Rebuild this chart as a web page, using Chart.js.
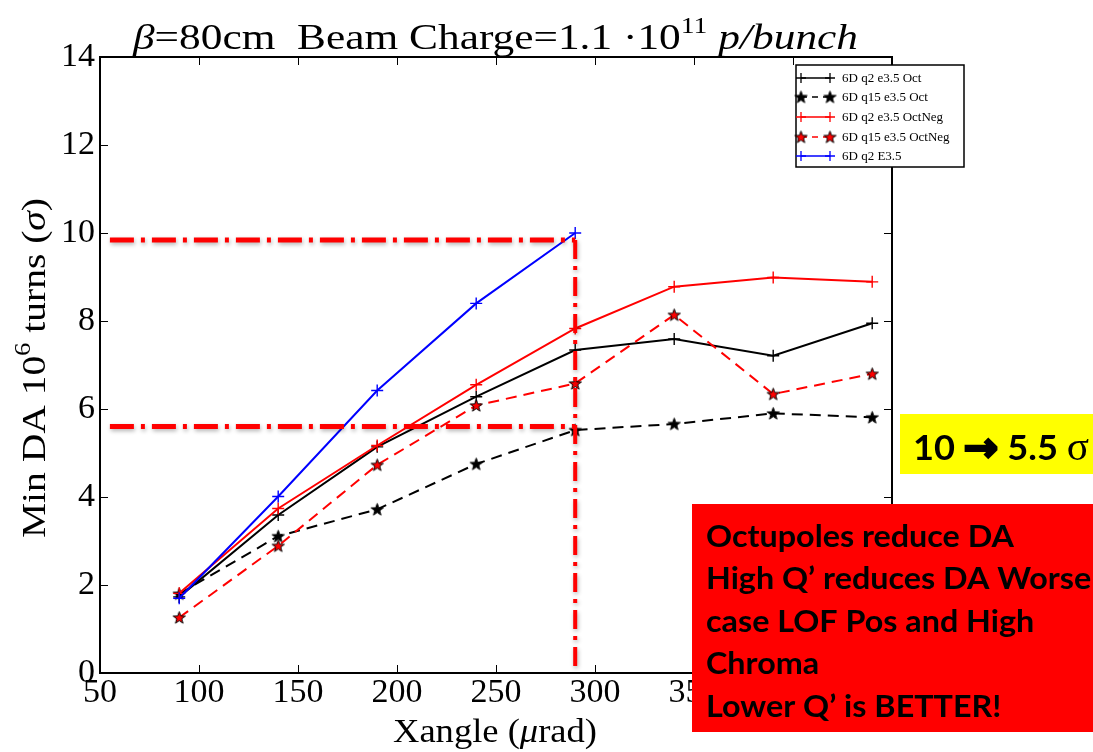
<!DOCTYPE html>
<html>
<head>
<meta charset="utf-8">
<script src="https://cdn.jsdelivr.net/npm/chart.js@4"></script>
<style>
  html, body { margin: 0; padding: 0; background: #fff; }
  #wrap { width: 1093px; height: 752px; position: relative; }
</style>
</head>
<body>
<div id="wrap"><canvas id="c"></canvas></div>
<script>
// Crossing angle scan (µrad) and minimum dynamic aperture (sigma)
const xangle = [90, 140, 190, 240, 290, 340, 390, 440];
const daQ2Oct      = [1.73, 3.59, 5.14, 6.28, 7.34, 7.59, 7.21, 7.95];
const daQ15Oct     = [1.80, 3.11, 3.72, 4.75, 5.52, 5.66, 5.90, 5.81];
const daQ2OctNeg   = [1.81, 3.74, 5.17, 6.55, 7.83, 8.78, 8.99, 8.89];
const daQ15OctNeg  = [1.26, 2.89, 4.73, 6.08, 6.58, 8.14, 6.34, 6.80];
const daQ2E35      = [1.70, 4.01, 6.42, 8.40, 10.0];

const seriesNames = ['6D q2 e3.5 Oct', '6D q15 e3.5 Oct', '6D q2 e3.5 OctNeg', '6D q15 e3.5 OctNeg', '6D q2 E3.5'];

const xTickValues = [50, 100, 150, 200, 250, 300, 350, 400, 450];
const yTickValues = [0, 2, 4, 6, 8, 10, 12, 14];

// Reference levels marked on the plot
const daBefore = 9.84;
const daAfter = 5.60;
const refAngle = 290;
const refStart = 55;

const noteBadge = ['10 ', '\u2192', ' 5.5 ', '\u03c3'];
const noteLines = [
  'Octupoles reduce DA',
  'High Q\u2019 reduces DA Worse',
  'case LOF Pos and High',
  'Chroma',
  'Lower Q\u2019 is BETTER!'
];

const SERIF = '"Liberation Serif", "Times New Roman", serif';
const SANS = 'Lato, "Open Sans", sans-serif';

function starImage(fill) {
  const c = document.createElement('canvas');
  c.width = 15; c.height = 15;
  const g = c.getContext('2d');
  g.beginPath();
  for (let i = 0; i < 10; i++) {
    const r = i % 2 ? 2.6 : 6.4;
    const a = -Math.PI / 2 + i * Math.PI / 5;
    g.lineTo(7.5 + r * Math.cos(a), 8 + r * Math.sin(a));
  }
  g.closePath();
  g.fillStyle = fill; g.fill();
  g.lineWidth = 1; g.strokeStyle = '#000'; g.stroke();
  return c;
}
const starBlack = starImage('#000000');
const starRed = starImage('#ff0000');

function pts(vals) { return vals.map((v, i) => ({ x: xangle[i], y: v })); }

const styles = [
  { color: '#000000', dash: [], marker: 'cross' },
  { color: '#000000', dash: [11, 7], marker: starBlack },
  { color: '#ff0000', dash: [], marker: 'cross' },
  { color: '#ff0000', dash: [11, 7], marker: starRed },
  { color: '#0000ff', dash: [], marker: 'cross' }
];
const seriesValues = [daQ2Oct, daQ15Oct, daQ2OctNeg, daQ15OctNeg, daQ2E35];

const datasets = seriesValues.map((vals, k) => ({
  label: seriesNames[k],
  data: pts(vals),
  borderColor: styles[k].color,
  backgroundColor: styles[k].color,
  borderWidth: 2,
  borderDash: styles[k].dash,
  pointStyle: styles[k].marker,
  pointRadius: 6,
  pointBorderWidth: 1.4,
  pointBorderColor: styles[k].color,
  pointBackgroundColor: styles[k].color,
  tension: 0,
  fill: false,
  order: 5 - k
}));

// Draws runs of text with mixed fonts, stretched to a given width
function drawRuns(ctx, runs, x, y, fitWidth) {
  let total = 0;
  runs.forEach(r => { ctx.font = r.font; r.w = ctx.measureText(r.t).width; total += r.w; });
  const s = fitWidth ? fitWidth / total : 1;
  ctx.save();
  ctx.translate(x, y);
  ctx.scale(s, 1);
  ctx.textBaseline = 'alphabetic';
  ctx.textAlign = 'left';
  let cx = 0;
  runs.forEach(r => {
    ctx.font = r.font;
    ctx.fillStyle = r.color || '#000';
    ctx.fillText(r.t, cx, r.dy || 0);
    if (r.heavy) {
      ctx.strokeStyle = r.color || '#000';
      ctx.lineWidth = r.heavy;
      ctx.lineJoin = 'miter';
      ctx.strokeText(r.t, cx, r.dy || 0);
    }
    cx += r.w;
  });
  ctx.restore();
}

const decorations = {
  id: 'decorations',
  afterDraw(chart) {
    const ctx = chart.ctx;
    const a = chart.chartArea;
    const xs = chart.scales.x, ys = chart.scales.y;

    // Frame with inward ticks on all four sides
    ctx.save();
    ctx.strokeStyle = '#000';
    ctx.lineWidth = 1;
    xTickValues.forEach(v => {
      const px = Math.round(xs.getPixelForValue(v)) + 0.5;
      ctx.beginPath();
      ctx.moveTo(px, a.bottom); ctx.lineTo(px, a.bottom - 8);
      ctx.moveTo(px, a.top); ctx.lineTo(px, a.top + 8);
      ctx.stroke();
    });
    yTickValues.forEach(v => {
      const py = Math.round(ys.getPixelForValue(v)) + 0.5;
      ctx.beginPath();
      ctx.moveTo(a.left, py); ctx.lineTo(a.left + 8, py);
      ctx.moveTo(a.right, py); ctx.lineTo(a.right - 8, py);
      ctx.stroke();
    });
    ctx.lineWidth = 2;
    ctx.strokeRect(a.left, a.top, a.right - a.left, a.bottom - a.top);
    ctx.restore();

    // Title
    drawRuns(ctx, [
      { t: '\u03b2', font: 'italic 36px ' + SERIF },
      { t: '=80cm  Beam Charge=1.1 \u00b710', font: '36px ' + SERIF },
      { t: '11', font: '23px ' + SERIF, dy: -16 },
      { t: ' p/bunch', font: 'italic 36px ' + SERIF }
    ], 133, 49, 725);

    // Axis titles
    drawRuns(ctx, [
      { t: 'Xangle (', font: '34px ' + SERIF },
      { t: '\u03bc', font: 'italic 34px ' + SERIF },
      { t: 'rad)', font: '34px ' + SERIF }
    ], 393, 742, 204);

    ctx.save();
    ctx.translate(45, 538);
    ctx.rotate(-Math.PI / 2);
    drawRuns(ctx, [
      { t: 'Min DA 10', font: '34px ' + SERIF },
      { t: '6', font: '23px ' + SERIF, dy: -15 },
      { t: ' turns (', font: '34px ' + SERIF },
      { t: '\u03c3', font: 'italic 34px ' + SERIF },
      { t: ')', font: '34px ' + SERIF }
    ], 0, 0, 340);
    ctx.restore();

    // Legend box
    const lx = 796, ly = 65, lw = 168, lh = 102;
    ctx.save();
    ctx.fillStyle = '#fff';
    ctx.fillRect(lx, ly, lw, lh);
    ctx.strokeStyle = '#000';
    ctx.lineWidth = 1.5;
    ctx.strokeRect(lx, ly, lw, lh);
    const rows = [78, 97, 117, 137, 156];
    datasets.forEach((d, k) => {
      const y = rows[k];
      ctx.strokeStyle = d.borderColor;
      ctx.lineWidth = 1.5;
      ctx.setLineDash(d.borderDash.length ? [6, 5] : []);
      ctx.beginPath(); ctx.moveTo(801, y); ctx.lineTo(830, y); ctx.stroke();
      ctx.setLineDash([]);
      [801, 830].forEach(mx => {
        if (d.pointStyle === 'cross') {
          ctx.lineWidth = 1.3;
          ctx.beginPath();
          ctx.moveTo(mx - 5, y); ctx.lineTo(mx + 5, y);
          ctx.moveTo(mx, y - 5); ctx.lineTo(mx, y + 5);
          ctx.stroke();
        } else {
          const img = d.pointStyle;
          ctx.drawImage(img, mx - img.width / 2, y - img.height / 2);
        }
      });
      ctx.fillStyle = '#000';
      ctx.font = '13px ' + SERIF;
      ctx.textBaseline = 'middle';
      ctx.textAlign = 'left';
      ctx.fillText(d.label, 842, y + 1);
    });
    ctx.restore();

    // Dash-dot reference lines
    ctx.save();
    ctx.strokeStyle = '#ff0000';
    ctx.lineCap = 'butt';
    ctx.shadowColor = 'rgba(0,0,0,0.3)';
    ctx.shadowBlur = 4;
    ctx.shadowOffsetX = 1;
    ctx.shadowOffsetY = 2;
    ctx.setLineDash([24, 7, 4, 7]);
    ctx.lineWidth = 5;
    const x0 = xs.getPixelForValue(refStart), x1 = xs.getPixelForValue(refAngle);
    [daBefore, daAfter].forEach(v => {
      const py = ys.getPixelForValue(v);
      ctx.beginPath(); ctx.moveTo(x0, py); ctx.lineTo(x1, py); ctx.stroke();
    });
    ctx.lineWidth = 4;
    ctx.setLineDash([19, 7, 4, 7]);
    ctx.beginPath();
    ctx.moveTo(x1, ys.getPixelForValue(daBefore));
    ctx.lineTo(x1, ys.getPixelForValue(0));
    ctx.stroke();
    ctx.restore();

    // Yellow badge
    ctx.save();
    ctx.fillStyle = '#ffff00';
    ctx.fillRect(900, 414, 193, 60);
    ctx.restore();
    drawRuns(ctx, [
      { t: noteBadge[0], font: 'bold 35px ' + SANS },
      { t: noteBadge[1], font: 'bold 40px "DejaVu Sans", sans-serif', dy: 1, heavy: 2.5 },
      { t: noteBadge[2], font: 'bold 35px ' + SANS },
      { t: noteBadge[3], font: '40px ' + SERIF }
    ], 913, 460, 176);

    // Red note box
    ctx.save();
    ctx.fillStyle = '#ff0000';
    ctx.fillRect(692, 504, 401, 228);
    ctx.font = 'bold 31px ' + SANS;
    const s = 308 / ctx.measureText(noteLines[0]).width;
    const base = [547, 589, 632, 674, 717];
    noteLines.forEach((t, i) => {
      ctx.save();
      ctx.translate(706, base[i]);
      ctx.scale(s, 1);
      ctx.fillStyle = '#000';
      ctx.textBaseline = 'alphabetic';
      ctx.fillText(t, 0, 0);
      ctx.restore();
    });
    ctx.restore();
  }
};

const tickFont = { family: SERIF, size: 34 };

new Chart(document.getElementById('c'), {
  type: 'line',
  data: { datasets },
  options: {
    responsive: true,
    maintainAspectRatio: false,
    animation: false,
    layout: { padding: { left: 0, top: 57, right: 201, bottom: 0 } },
    plugins: { legend: { display: false }, title: { display: false }, tooltip: { enabled: false } },
    scales: {
      x: {
        type: 'linear', min: 50, max: 450,
        afterBuildTicks: s => { s.ticks = xTickValues.map(v => ({ value: v })); },
        afterFit: s => { s.height = 79; },
        grid: { display: false, drawTicks: false },
        border: { display: false },
        ticks: { padding: 0, autoSkip: false, maxRotation: 0, font: tickFont, color: '#000' }
      },
      y: {
        type: 'linear', min: 0, max: 14,
        afterBuildTicks: s => { s.ticks = yTickValues.map(v => ({ value: v })); },
        afterFit: s => { s.width = 100; },
        grid: { display: false, drawTicks: false },
        border: { display: false },
        ticks: { padding: 5, autoSkip: false, font: tickFont, color: '#000' }
      }
    }
  },
  plugins: [decorations]
});
</script>
</body>
</html>
